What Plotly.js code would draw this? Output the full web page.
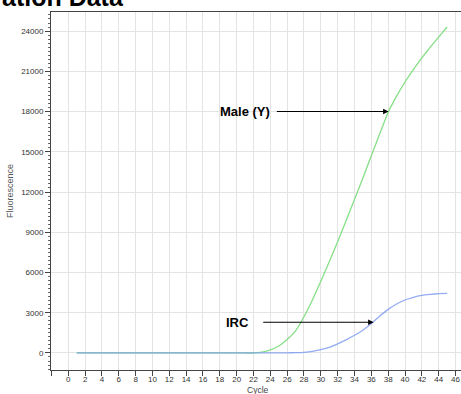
<!DOCTYPE html>
<html>
<head>
<meta charset="utf-8">
<script src="https://cdn.plot.ly/plotly-3.0.1.min.js"></script>
<style>html,body{margin:0;padding:0;background:#fff;}#chart{width:461px;height:394px;}</style>
</head>
<body>
<div id="chart"></div>
<script>
var cycles = [1,2,3,4,5,6,7,8,9,10,11,12,13,14,15,16,17,18,19,20,21,22,23,24,25,26,27,28,29,30,31,32,33,34,35,36,37,38,39,40,41,42,43,44,45];
var maleY = [0,0,0,0,0,0,0,0,0,0,0,0,0,0,0,0,0,0,0,0,0,0,70,230,520,1000,1650,2700,3950,5350,6800,8300,9850,11450,13050,14700,16350,17950,19150,20200,21150,22000,22800,23550,24300];
var irc = [0,0,0,0,0,0,0,0,0,0,0,0,0,0,0,0,0,0,0,0,0,0,0,0,0,10,20,50,120,250,420,680,980,1320,1700,2200,2750,3250,3650,3950,4150,4290,4370,4420,4450];
var xTicks = [-2,0,2,4,6,8,10,12,14,16,18,20,22,24,26,28,30,32,34,36,38,40,42,44,46];
var xTickText = ['','0','2','4','6','8','10','12','14','16','18','20','22','24','26','28','30','32','34','36','38','40','42','44','46'];
var yTicks = [0,3000,6000,9000,12000,15000,18000,21000,24000];
var yTickText = ['0','3000','6000','9000','12000','15000','18000','21000','24000'];

var traces = [
  {x: cycles, y: maleY, type: 'scatter', mode: 'lines', name: 'Male (Y)',
   line: {color: '#86df86', width: 1.3, shape: 'spline', smoothing: 0.3}},
  {x: cycles, y: irc, type: 'scatter', mode: 'lines', name: 'IRC', opacity: 0.85,
   line: {color: '#7f9cf0', width: 1.3, shape: 'spline', smoothing: 0.3}}
];

var tickFont = {family: 'Liberation Sans, Arial, sans-serif', size: 8, color: '#333'};
var layout = {
  width: 461, height: 394,
  margin: {l: 51, r: 0, t: 12, b: 24, pad: 0},
  paper_bgcolor: '#fff', plot_bgcolor: '#fff',
  showlegend: false,
  xaxis: {
    range: [-2.05, 46.65], tickmode: 'array', tickvals: xTicks, ticktext: xTickText,
    showgrid: true, gridcolor: '#e4e4e4', gridwidth: 1, zeroline: false,
    showline: true, linecolor: '#444', linewidth: 1, mirror: true,
    ticks: 'outside', ticklen: 5, tickcolor: '#444', tickfont: tickFont,
    ticklabelstandoff: -4
  },
  yaxis: {
    range: [-1270, 25420], tickmode: 'array', tickvals: yTicks, ticktext: yTickText,
    showgrid: true, gridcolor: '#e4e4e4', gridwidth: 1, zeroline: false,
    showline: true, linecolor: '#444', linewidth: 1,
    ticks: 'outside', ticklen: 5, tickcolor: '#444', tickfont: tickFont,
    minor: {dtick: 300, tick0: 0, ticks: 'outside', ticklen: 2.5, tickcolor: '#666', showgrid: false},
    title: {text: 'Fluorescence', font: {family: 'Liberation Sans, Arial, sans-serif', size: 9, color: '#555'}, standoff: 6}
  },
  annotations: [
    {xref: 'paper', yref: 'paper', x: -51/410, y: 1, xanchor: 'left', yanchor: 'bottom', yshift: -1,
     text: '<b>ation Data</b>', showarrow: false,
     font: {family: 'Liberation Sans, Arial, sans-serif', size: 25, color: '#000'}},
    {xref: 'paper', yref: 'paper', x: (258-51)/410, y: -20/358, xanchor: 'center', yanchor: 'middle',
     text: 'Cycle', showarrow: false, borderpad: 0,
     font: {family: 'Liberation Sans, Arial, sans-serif', size: 8.5, color: '#444'}},
    {xref: 'x', yref: 'y', x: 38.05, y: 18000, axref: 'x', ayref: 'y', ax: 24.6, ay: 18000,
     text: '', showarrow: true, arrowhead: 2, arrowsize: 1, arrowwidth: 1.1, arrowcolor: '#000', standoff: 0},
    {xref: 'x', yref: 'y', x: 24.15, y: 18000, xanchor: 'right', yanchor: 'middle',
     text: '<b>Male (Y)</b>', showarrow: false,
     font: {family: 'Liberation Sans, Arial, sans-serif', size: 13, color: '#000'}},
    {xref: 'x', yref: 'y', x: 36.27, y: 2290, axref: 'x', ayref: 'y', ax: 22.98, ay: 2290,
     text: '', showarrow: true, arrowhead: 2, arrowsize: 1, arrowwidth: 1.1, arrowcolor: '#000', standoff: 0},
    {xref: 'x', yref: 'y', x: 21.7, y: 2290, xanchor: 'right', yanchor: 'middle',
     text: '<b>IRC</b>', showarrow: false,
     font: {family: 'Liberation Sans, Arial, sans-serif', size: 13, color: '#000'}}
  ]
};
Plotly.newPlot('chart', traces, layout, {displayModeBar: false, staticPlot: true});
</script>
</body>
</html>
